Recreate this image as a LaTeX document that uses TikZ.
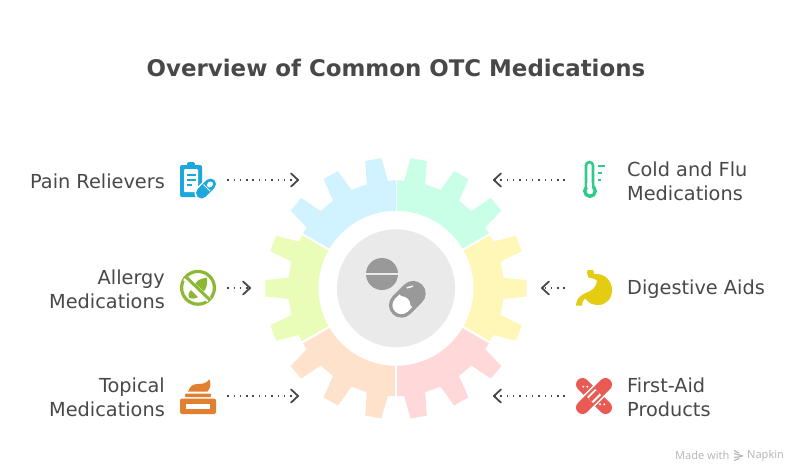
\documentclass[tikz,border=0pt]{standalone}
\usepackage{fontspec}
\setmainfont{DejaVu Sans}
\newfontfamily\footfont{Noto Sans}
\usetikzlibrary{arrows.meta}
\definecolor{textgray}{HTML}{484848}
\definecolor{gearmint}{HTML}{C9FFE6}
\definecolor{gearyellow}{HTML}{FFF7B8}
\definecolor{gearpink}{HTML}{FFD9D9}
\definecolor{gearpeach}{HTML}{FFE2CC}
\definecolor{gearlime}{HTML}{E9FDB8}
\definecolor{gearblue}{HTML}{D1F3FF}
\definecolor{hubgray}{HTML}{EAEAEA}
\definecolor{pillgray}{HTML}{999999}
\definecolor{iconblue}{HTML}{1CA8DD}
\definecolor{icongreen}{HTML}{8DB834}
\definecolor{iconorange}{HTML}{E08030}
\definecolor{iconmint}{HTML}{2FCB8B}
\definecolor{iconyellow}{HTML}{E3CC12}
\definecolor{iconred}{HTML}{E85A52}
\tikzset{
  labeltext/.style={text=textgray, font=\fontsize{19.3}{24}\selectfont, inner sep=0pt},
  leftlabel/.style={labeltext, anchor=east, align=right},
  rightlabel/.style={labeltext, anchor=west, align=left},
  iconbox/.style={minimum size=36pt, inner sep=0pt},
  flowarrow/.style={textgray, line width=1.3pt, dash pattern=on 1.4pt off 4.9pt, shorten <=11pt,
    -{Straight Barb[length=7pt,width=13pt,line width=1.8pt,round]}},
  footertext/.style={text=black!28, font=\footfont\fontsize{11}{14}\selectfont, inner sep=0pt, anchor=west}
}
\begin{document}
\begin{tikzpicture}[x=1pt,y=-1pt]
  \useasboundingbox (0,0) rectangle (792,469);
  \node[text=textgray, font=\bfseries\fontsize{22.9}{26}\selectfont, inner sep=0pt] (title) at (396,68) {Overview of Common OTC Medications};

  % gear, three teeth on each piece
  \begin{scope}[shift={(396,288.3)}]
    \foreach \c/\col in {-60/gearmint, 0/gearyellow, 60/gearpink, 120/gearpeach, 180/gearlime, 240/gearblue}{
      \fill[\col] ({\c-30}:77.5) -- ({\c-30}:108)
        foreach \t in {\c-20,\c,\c+20} { -- ({\t-5.7}:108) -- ({\t-3.6}:131) -- ({\t+3.6}:131) -- ({\t+5.7}:108) }
        -- ({\c+30}:108) -- ({\c+30}:77.5) arc[start angle=\c+30, end angle=\c-30, radius=77.5] -- cycle;
      \draw[white, line width=2pt] ({\c-30}:70) -- ({\c-30}:115);
    }
    \fill[hubgray] (0,0) circle (59);
  \end{scope}

  % hub pills
  \fill[pillgray] (382,274) circle (16);
  \draw[hubgray, line width=2pt] (364,273.5) -- (400,273.5);
  \begin{scope}[shift={(407.3,299.3)}, rotate=45]
    \draw[pillgray, line width=25pt, line cap=round] (-8.3,0) -- (8.3,0);
    \fill[white] (-8.3,0) circle (9);
    \fill[white] (-8.3,-9) rectangle (-2,9);
    \draw[white, line width=1.4pt, line cap=round] (8,-8.3) -- (13,-5.5);
  \end{scope}

  % labels
  \node[leftlabel] (painlabel) at (165,181) {Pain Relievers};
  \node[leftlabel] (allergylabel) at (165,289) {Allergy\\Medications};
  \node[leftlabel] (topicallabel) at (165,397) {Topical\\Medications};
  \node[rightlabel] (coldlabel) at (627,181) {Cold and Flu\\Medications};
  \node[rightlabel] (digestivelabel) at (627,289) {Digestive Aids};
  \node[rightlabel] (firstaidlabel) at (627,397) {First-Aid\\Products};

  \node[iconbox] (painicon) at (198,180) {};
  \node[iconbox] (allergyicon) at (198,288) {};
  \node[iconbox] (topicalicon) at (198,396) {};
  \node[iconbox] (coldicon) at (594,180) {};
  \node[iconbox] (digestiveicon) at (594,288) {};
  \node[iconbox] (firstaidicon) at (594,396) {};

  \coordinate (paintip) at (299,180);
  \coordinate (allergytip) at (251,288);
  \coordinate (topicaltip) at (299,396);
  \coordinate (coldtip) at (493,180);
  \coordinate (digestivetip) at (541,288);
  \coordinate (firstaidtip) at (493,396);

  \draw[flowarrow] (painicon.east) -- (paintip);
  \draw[flowarrow] (allergyicon.east) -- (allergytip);
  \draw[flowarrow] (topicalicon.east) -- (topicaltip);
  \draw[flowarrow] (coldicon.west) -- (coldtip);
  \draw[flowarrow] (digestiveicon.west) -- (digestivetip);
  \draw[flowarrow] (firstaidicon.west) -- (firstaidtip);

  % clipboard
  \fill[iconblue, rounded corners=2pt] (180,165) rectangle (202,197);
  \fill[iconblue, rounded corners=1.5pt] (187,162) rectangle (195,168);
  \fill[white, rounded corners=1pt] (184,169) rectangle (198,192);
  \foreach \y/\e in {175/196, 180/196, 185/192}{
    \draw[iconblue, line width=1.5pt] (187,\y) -- (\e,\y);}
  \draw[white, line width=14pt, line cap=round] (201.5,193) -- (210.5,184);
  \draw[iconblue, line width=11pt, line cap=round] (201.5,193) -- (210.5,184);
  \draw[white, line width=5pt, line cap=round] (209.5,185) -- (210.5,184);
  \draw[white, line width=1pt] (203.5,184.5) -- (210,191);

  % leaves crossed out
  \draw[icongreen, line width=3.2pt] (198,287.8) circle (16.4);
  \fill[icongreen] (195,287) .. controls (194,281) and (201,278) .. (207,277.7) .. controls (208,284) and (206,290) .. (203,292) -- cycle;
  \fill[icongreen] (189,298) .. controls (188,294) and (189,291) .. (191,290) -- (198,297) .. controls (195,299) and (192,299) .. (189,298) -- cycle;
  \draw[white, line width=5.5pt] (185,278) -- (209,300);
  \draw[icongreen, line width=3pt] (185,276) -- (210,300);

  % cream jar
  \fill[iconorange] (188,391.7) .. controls (190,386) and (193,384) .. (198,384) .. controls (203,384) and (207,383) .. (209.3,379.3) .. controls (211,383) and (211,388) .. (207.3,391.7) -- cycle;
  \fill[iconorange, rounded corners=1pt] (185,393.5) rectangle (211,397);
  \fill[iconorange, rounded corners=2pt] (180,398.5) rectangle (216,414);
  \fill[white] (186,404) rectangle (210,409);

  % thermometer
  \draw[iconmint, line width=2.6pt] (586,186) -- (586,165.5) arc[start angle=180, end angle=360, radius=3.5] -- (593,186);
  \draw[iconmint, line width=3.4pt, fill=white] (590,191) circle (5.3);
  \fill[white] (587.3,183) rectangle (591.7,188);
  \draw[iconmint, line width=2pt] (598,165.7) -- (605,165.7);
  \draw[iconmint, line width=2pt] (598,172.7) -- (602,172.7);
  \draw[iconmint, line width=2pt] (598,180) -- (601,180);

  % stomach
  \fill[iconyellow] (593.3,270) -- (594,274) .. controls (606,273) and (612,282) .. (612,290)
    .. controls (612,299) and (606,305) .. (598,305) .. controls (592,305) and (589,303) .. (585,298.3)
    .. controls (583,300) and (582,303) .. (581.7,305.7) -- (576,305.7) .. controls (576,301) and (578,297) .. (585,293.3)
    .. controls (591,291) and (597,288) .. (596.7,280) .. controls (594,278) and (590,278) .. (588.3,277.3)
    .. controls (587,275) and (587,272) .. (587.3,270) -- cycle;

  % crossed bandages
  \draw[iconred, line width=13pt, line cap=round] (582.5,384.5) -- (605.5,407.5);
  \draw[white, line width=16pt] (586,404) -- (602,388);
  \draw[iconred, line width=13pt, line cap=round] (582.5,407.5) -- (605.5,384.5);
  \draw[white, line width=8.5pt] (590,400) -- (598,392);
  \draw[iconred, line width=4.5pt] (590,400) -- (598,392);
  \fill[white] (583.3,386.7) circle (1.1) (587.3,386.7) circle (1.1) (600,404.3) circle (1.1) (604.3,404.3) circle (1.1);

  % footer
  \node[footertext] (madewith) at (675,455.5) {Made with};
  \node[footertext] (napkin) at (747,455.5) {Napkin};
  \draw[black!28, line width=1.2pt] (734,450.5) -- (739,453);
  \draw[black!28, line width=1.2pt] (734,453.5) -- (743,456);
  \draw[black!28, line width=1.2pt] (734,457.5) -- (742,456.5);
  \draw[black!28, line width=1.2pt] (734,460.5) -- (739,458.5);
\end{tikzpicture}
\end{document}
